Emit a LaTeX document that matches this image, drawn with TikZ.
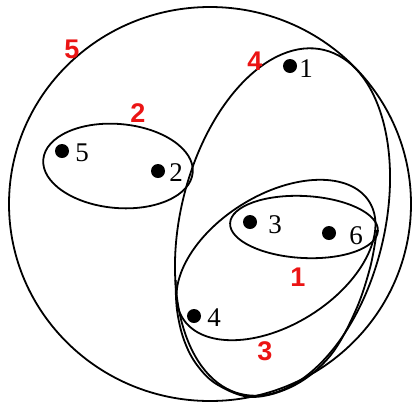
\documentclass[tikz,border=0pt]{standalone}
\usepackage{fontspec}
\setmainfont{Liberation Serif}
\newfontfamily\redfont{Liberation Sans}
\definecolor{lblred}{RGB}{235,20,20}
\begin{document}
\begin{tikzpicture}[x=1pt,y=-1pt,
  setline/.style={line width=1.8pt,black},
  dot/.style={circle,fill=black,inner sep=0pt,minimum size=14pt},
  num/.style={inner sep=0pt,font=\fontsize{27}{27}\selectfont},
  setlbl/.style={inner sep=0pt,text=lblred,font=\redfont\bfseries\fontsize{27}{27}\selectfont}]
\useasboundingbox (0,0) rectangle (414,405);
% sets
\draw[setline] (210,204) ellipse [x radius=201pt, y radius=197pt];
\draw[setline, rotate around={-13.6:(282.5,222)}] (282.5,222) ellipse [x radius=102pt, y radius=177pt];
\draw[setline, rotate around={32:(276,260)}] (276,260) ellipse [x radius=110pt, y radius=65pt];
\draw[setline, rotate around={-3:(304,227)}] (304,227) ellipse [x radius=74pt, y radius=31pt];
\draw[setline, rotate around={-5:(118,166)}] (118,166) ellipse [x radius=75pt, y radius=42pt];
\draw[setline] plot[smooth, tension=0.6] coordinates {(175.6,280) (177,310) (184,340) (197,365) (218,385) (253,397) (295,385) (330,356) (355,312) (370,268) (377,230)};
% elements
\node[dot] (p1) at (290,66) {};
\node[dot] (p5) at (62,151) {};
\node[dot] (p2) at (158,171) {};
\node[dot] (p3) at (250,222) {};
\node[dot] (p6) at (329,233) {};
\node[dot] (p4) at (194,316) {};
\node[num] (t1) at (306,69) {1};
\node[num] (t5) at (82,153) {5};
\node[num] (t2) at (176,173) {2};
\node[num] (t3) at (275,225) {3};
\node[num] (t6) at (356,236) {6};
\node[num] (t4) at (214,318) {4};
% set labels
\node[setlbl] (s5) at (72,49) {5};
\node[setlbl] (s4) at (255,61) {4};
\node[setlbl] (s2) at (138,113) {2};
\node[setlbl] (s1) at (298,277) {1};
\node[setlbl] (s3) at (265,351) {3};
\end{tikzpicture}
\end{document}
